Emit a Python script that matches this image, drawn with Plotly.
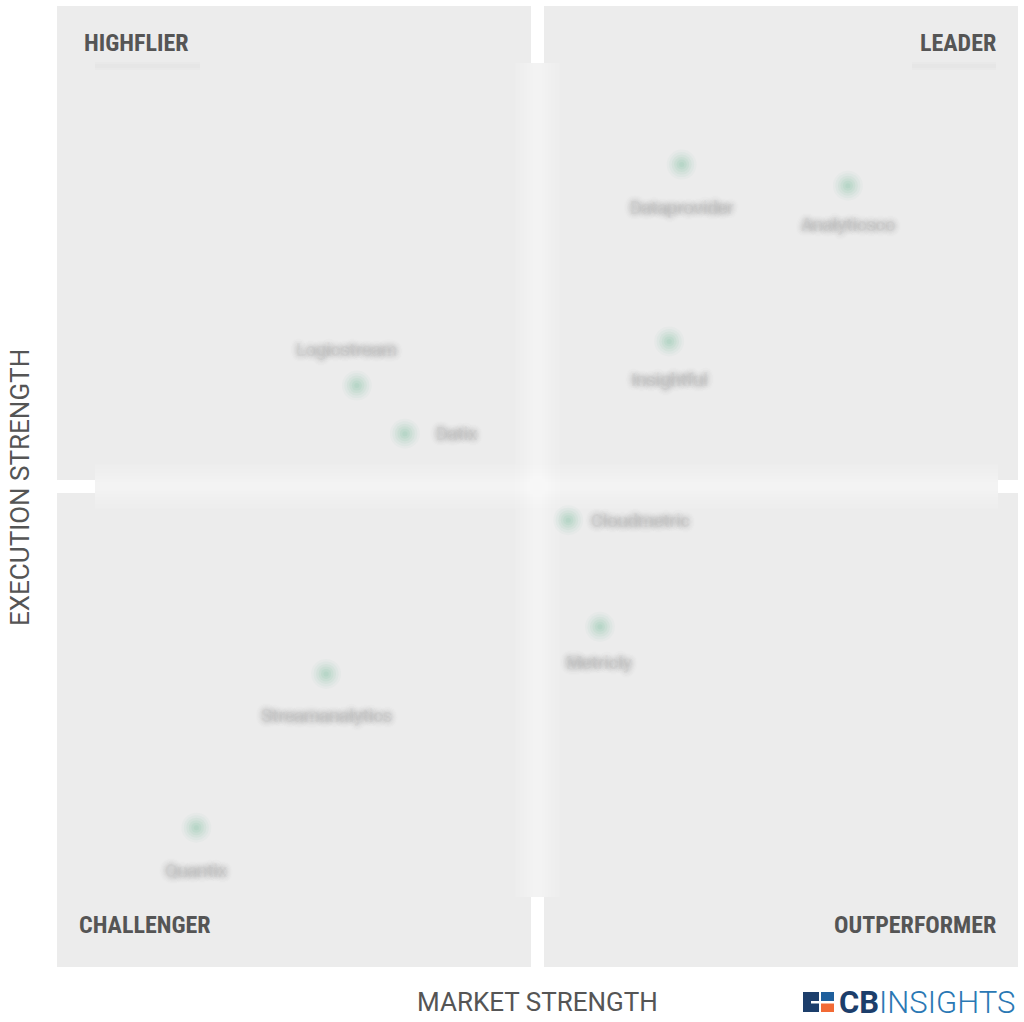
import plotly.graph_objects as go

# ---- data (labels are blurred in the reference; placeholder names of similar length) ----
companies = ["Dataprovider", "Analyticsco", "Insightful", "Logicstream", "Datix",
             "Cloudmetric", "Metricly", "Streamanalytics", "Quantix"]
market_strength = [65.0, 82.3, 63.7, 31.2, 36.2, 53.2, 56.5, 28.0, 14.5]
execution_strength = [83.5, 81.3, 65.1, 60.5, 55.5, 46.5, 35.4, 30.5, 14.5]
quadrant_labels = ["HIGHFLIER", "LEADER", "CHALLENGER", "OUTPERFORMER"]

# label placement style (pixel offsets relative to point)
label_dx = [0, 0, 0, -10, 52, 72, 0, 0, 0]
label_dy = [-43, -39, -38, 36, 0, 0, -36, -42, -43]

W, H = 1024, 1022
L, R, T, B = 57, 6, 6, 55
PW = W - L - R
PH = H - T - B


def px(xp):
    return (xp - L) / PW


def py(yp):
    return (H - B - yp) / PH


fig = go.Figure()

# blurred green markers (stacked for soft edges)
for size, op in [(30, 0.04), (25, 0.06), (20, 0.08), (15, 0.09), (10, 0.10), (5, 0.10)]:
    fig.add_trace(go.Scatter(
        x=market_strength, y=execution_strength, mode="markers",
        marker=dict(size=size, color="#6db892", opacity=op, line=dict(width=0)),
        hoverinfo="skip", showlegend=False))

shapes = []
gap_w = 13
cx, cy = 537.5, 486.5
shapes.append(dict(type="rect", xref="paper", yref="paper", layer="below",
                   x0=px(cx - gap_w / 2), x1=px(cx + gap_w / 2), y0=py(63), y1=py(0),
                   fillcolor="white", line=dict(width=0)))
shapes.append(dict(type="rect", xref="paper", yref="paper", layer="below",
                   x0=px(cx - gap_w / 2), x1=px(cx + gap_w / 2), y0=py(1022), y1=py(897),
                   fillcolor="white", line=dict(width=0)))
shapes.append(dict(type="rect", xref="paper", yref="paper", layer="below",
                   x0=px(0), x1=px(95), y0=py(cy + gap_w / 2), y1=py(cy - gap_w / 2),
                   fillcolor="white", line=dict(width=0)))
shapes.append(dict(type="rect", xref="paper", yref="paper", layer="below",
                   x0=px(998), x1=px(1024), y0=py(cy + gap_w / 2), y1=py(cy - gap_w / 2),
                   fillcolor="white", line=dict(width=0)))
for hw in [22, 18, 14, 11, 8, 5]:
    shapes.append(dict(type="rect", xref="paper", yref="paper", layer="below",
                       x0=px(cx - hw), x1=px(cx + hw), y0=py(897), y1=py(63),
                       fillcolor="rgba(255,255,255,0.11)", line=dict(width=0)))
    shapes.append(dict(type="rect", xref="paper", yref="paper", layer="below",
                       x0=px(95), x1=px(998), y0=py(cy + hw), y1=py(cy - hw),
                       fillcolor="rgba(255,255,255,0.11)", line=dict(width=0)))
for x0, x1 in [(95, 200), (912, 996)]:
    for hh, c in [(4, "rgba(0,0,0,0.010)"), (2, "rgba(0,0,0,0.012)")]:
        shapes.append(dict(type="rect", xref="paper", yref="paper", layer="below",
                           x0=px(x0), x1=px(x1), y0=py(66 + hh), y1=py(66 - hh),
                           fillcolor=c, line=dict(width=0)))

# CB Insights logo icon
navy = "#1c3e6b"
shapes += [
    dict(type="rect", xref="paper", yref="paper", x0=px(803), x1=px(819), y0=py(1012), y1=py(992),
         fillcolor=navy, line=dict(width=0)),
    dict(type="rect", xref="paper", yref="paper", x0=px(811), x1=px(819), y0=py(1003.5), y1=py(1001),
         fillcolor="white", line=dict(width=0)),
    dict(type="rect", xref="paper", yref="paper", x0=px(821), x1=px(834), y0=py(1001), y1=py(992),
         fillcolor="#1f5f9c", line=dict(width=0)),
    dict(type="rect", xref="paper", yref="paper", x0=px(821), x1=px(834), y0=py(1012), y1=py(1003.5),
         fillcolor="#f26a35", line=dict(width=0)),
]

annotations = []
# blurred company labels
for name, x, y, dx, dy in zip(companies, market_strength, execution_strength, label_dx, label_dy):
    annotations.append(dict(
        x=x, y=y, xref="x", yref="y", text=name, showarrow=False,
        xshift=dx, yshift=dy, xanchor="center", yanchor="middle",
        font=dict(family="Roboto", size=18, weight="bold", color="rgba(170,170,170,0.10)",
                  shadow="0px 0px 6px rgba(30,30,30,1), 0px 0px 6px rgba(30,30,30,1), "
                         "0px 0px 8px rgba(40,40,40,1), 0px 0px 12px rgba(70,70,70,0.6)")))

qfont = dict(family="Roboto Condensed, Liberation Sans Narrow, Roboto", size=24, color="#555555", weight="bold")
qpos = [(82, 43, "left"), (998, 43, "right"), (77, 925, "left"), (998, 925, "right")]
for lab, (xp, yp, anc) in zip(quadrant_labels, qpos):
    annotations.append(dict(x=px(xp), y=py(yp), xref="paper", yref="paper", text=lab,
                            showarrow=False, xanchor=anc, yanchor="middle", font=qfont))

annotations.append(dict(x=px(537), y=py(1002), xref="paper", yref="paper", text="MARKET STRENGTH",
                        showarrow=False, xanchor="center", yanchor="middle",
                        font=dict(family="Roboto", size=26, color="#555555")))
annotations.append(dict(x=px(20), y=py(488), xref="paper", yref="paper", text="EXECUTION STRENGTH",
                        showarrow=False, xanchor="center", yanchor="middle", textangle=-90,
                        font=dict(family="Roboto", size=26, color="#555555")))
annotations.append(dict(x=px(837), y=py(1002.5), xref="paper", yref="paper",
                        text="<b><span style='color:#1c3e6b'>CB</span></b><span style='color:#2a78b4;font-weight:300'>INSIGHTS</span>",
                        showarrow=False, xanchor="left", yanchor="middle",
                        font=dict(family="Roboto", size=31, color="#2a78b4")))

fig.update_layout(
    width=W, height=H,
    margin=dict(l=L, r=R, t=T, b=B),
    paper_bgcolor="white", plot_bgcolor="#ececec",
    xaxis=dict(range=[0, 100], showgrid=False, zeroline=False, showticklabels=False, fixedrange=True),
    yaxis=dict(range=[0, 100], showgrid=False, zeroline=False, showticklabels=False, fixedrange=True),
    shapes=shapes, annotations=annotations, showlegend=False,
)

fig.write_html("out.html", config={"displayModeBar": False},
               post_script="document.body.style.margin='0px';")
